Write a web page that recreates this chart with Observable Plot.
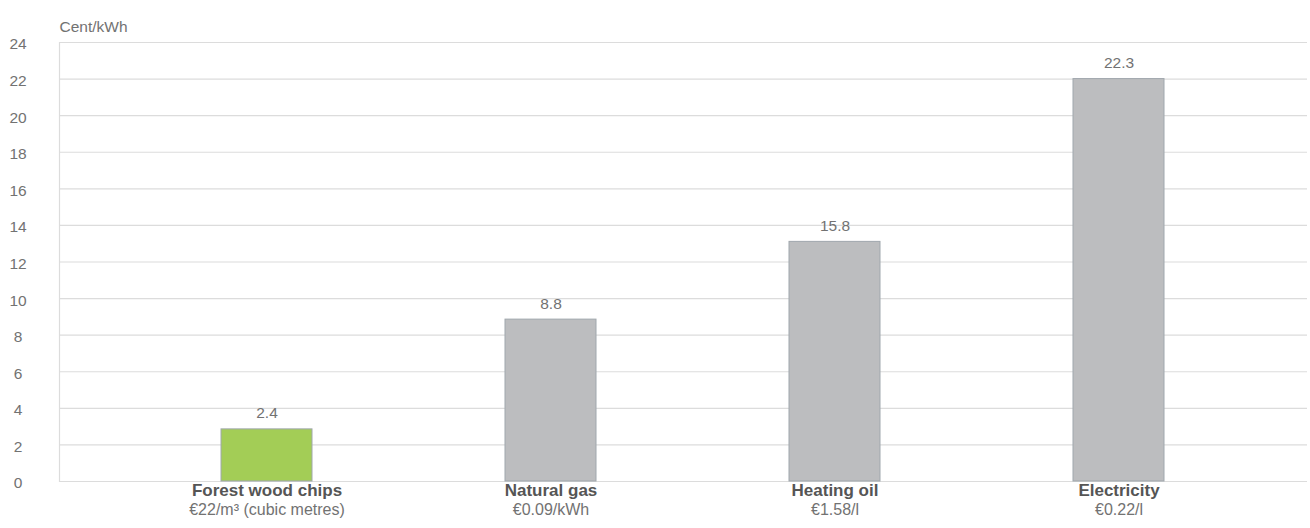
<!DOCTYPE html>
<html>
<head>
<meta charset="utf-8">
<script src="https://cdn.jsdelivr.net/npm/d3@7"></script>
<script src="https://cdn.jsdelivr.net/npm/@observablehq/plot@0.6"></script>
<style>
  html, body { margin: 0; padding: 0; background: #fff; }
  #chart svg { display: block; }
</style>
</head>
<body>
<div id="chart"></div>
<script>
const categories = ["Forest wood chips", "Natural gas", "Heating oil", "Electricity"];
const prices = ["€22/m³ (cubic metres)", "€0.09/kWh", "€1.58/l", "€0.22/l"];
const barValues = [2.85, 8.85, 13.1, 22.0];
const valueLabels = ["2.4", "8.8", "15.8", "22.3"];
const barColors = ["#a3cd56", "#bcbdbf", "#bcbdbf", "#bcbdbf"];
const yTicks = [0, 2, 4, 6, 8, 10, 12, 14, 16, 18, 20, 22, 24];
const yUnit = "Cent/kWh";

const data = categories.map((c, i) => ({
  name: c, price: prices[i], value: barValues[i], label: valueLabels[i], color: barColors[i]
}));

const font = "'Liberation Sans', Arial, sans-serif";
const lightText = "#727272";

const chart = Plot.plot({
  width: 1310,
  height: 528,
  marginTop: 42,
  marginBottom: 47,
  marginLeft: 59,
  marginRight: 3,
  style: { fontFamily: font, fontSize: "16px", color: lightText, background: "#fff" },
  x: { domain: categories, range: [123, 1262], paddingInner: 0.68, paddingOuter: 0.34, axis: null },
  y: { domain: [0, 24], axis: null },
  marks: [
    Plot.gridY(yTicks, { stroke: "#dcdcdc", strokeOpacity: 1, strokeWidth: 1.2 }),
    Plot.frame({ anchor: "left", stroke: "#dcdcdc", strokeWidth: 1.2 }),
    Plot.axisY(yTicks, {
      tickSize: 0, tickPadding: 0, dx: -41.5, dy: 2, textAnchor: "middle",
      label: null, fill: lightText, fontSize: 15.5
    }),
    Plot.text([yUnit], { frameAnchor: "top-left", dy: -22, textAnchor: "start", fill: lightText, fontSize: 15.5 }),
    Plot.barY(data, { x: "name", y: "value", fill: "color", stroke: "#a0a7ad", strokeWidth: 1 }),
    Plot.text(data, { x: "name", y: "value", text: "label", dy: -16, fill: lightText, fontSize: 15.5 }),
    Plot.text(data, { x: "name", text: "name", frameAnchor: "bottom", dy: 14, fill: "#555", fontWeight: 700, fontSize: 17 }),
    Plot.text(data, { x: "name", text: "price", frameAnchor: "bottom", dy: 33.5, fill: lightText, fontSize: 16 })
  ]
});
document.getElementById("chart").appendChild(chart);
</script>
</body>
</html>
